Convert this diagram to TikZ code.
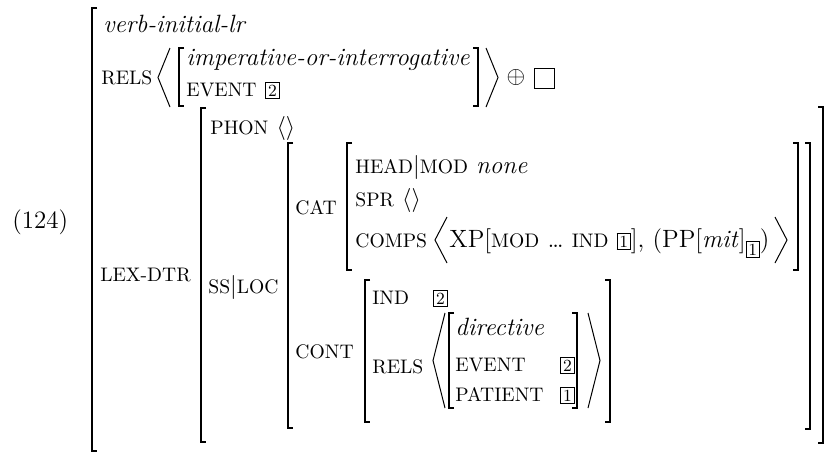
\documentclass[tikz,border=0pt]{standalone}
\usepackage{fontspec}
\newcommand{\avmtag}[1]{{\setlength{\fboxsep}{0.9pt}\setlength{\fboxrule}{0.45pt}\fbox{\fontsize{8.5}{9}\selectfont #1}}}
\newcommand{\fsc}[1]{{\fontsize{9.8}{12}\selectfont\MakeUppercase{#1}}}
\newcommand{\lbrk}[3]{\draw[brk] (#1+5,#2) -- (#1,#2) -- (#1,#3) -- (#1+5,#3);}
\newcommand{\rbrk}[3]{\draw[brk] (#1-5,#2) -- (#1,#2) -- (#1,#3) -- (#1-5,#3);}
\newcommand{\langl}[3]{\draw[ang] (#1+12,#2) -- (#1,{(#2+#3)/2}) -- (#1+12,#3);}
\newcommand{\rangl}[3]{\draw[ang] (#1,#2) -- (#1+12,{(#2+#3)/2}) -- (#1,#3);}
\begin{document}
\begin{tikzpicture}[x=0.5pt,y=-0.5pt,
  txt/.style={anchor=base west, inner sep=0pt, font=\fontsize{12.5}{15}\selectfont},
  brk/.style={line width=0.7pt},
  ang/.style={line width=0.5pt}]
\useasboundingbox (0,0) rectangle (829,452);
% number
\node[txt] (num) at (12,228) {(124)};
% outer
\lbrk{92}{8}{451}
\node[txt] (verb) at (103,32) {\textit{verb-initial-lr}};
\node[txt] (relsA) at (101,84) {\fsc{rels}};
\langl{158}{48}{107}
\lbrk{179}{48}{106}
\node[txt] (imp) at (186,65) {\textit{imperative-or-interrogative}};
\node[txt] (evA) at (186,96) {\fsc{event}};
\node[txt] (tagA) at (265,96) {\avmtag{2}};
\rbrk{478}{48}{106}
\rangl{486}{48}{107}
\node[inner sep=0pt, font=\fontsize{12.5}{15}\selectfont] (oplus) at (516,77) {$\oplus$};
\node[draw, line width=0.5pt, minimum size=10pt, inner sep=0pt] (emptybox) at (544,78) {};
% lex-dtr
\node[txt] (lexdtr) at (100,281) {\fsc{lex-dtr}};
\lbrk{201}{108}{442}
\rbrk{823}{107}{443}
\node[txt] (phon) at (210,134) {\fsc{phon} $\langle\rangle$};
\node[txt] (ssloc) at (208,293) {\fsc{ss}$|$\fsc{loc}};
\lbrk{288}{143}{428}
\rbrk{810}{143}{429}
% cat
\node[txt] (cat) at (295,214) {\fsc{cat}};
\lbrk{347}{143}{270}
\rbrk{798}{143}{270}
\node[txt] (head) at (355,173) {\fsc{head}$|$\fsc{mod} \textit{none}};
\node[txt] (spr) at (355,206) {\fsc{spr} $\langle\rangle$};
\node[txt] (comps) at (355,247) {\fsc{comps}};
\langl{435}{217}{263}
\node[txt] (xp) at (449,247) {XP[\fsc{mod} \dots{} \fsc{ind} \avmtag{1}], (PP[\textit{mit}]\raisebox{-4pt}{\avmtag{1}})};
\rangl{775}{217}{263}
% cont
\node[txt] (cont) at (295,358) {\fsc{cont}};
\lbrk{365}{280}{422}
\rbrk{610}{280}{422}
\node[txt] (ind) at (372,304) {\fsc{ind}};
\node[txt] (tagB) at (433,304) {\avmtag{2}};
\node[txt] (relsB) at (372,373) {\fsc{rels}};
\langl{433}{313}{408}
\lbrk{449}{313}{408}
\node[txt] (dir) at (455,335) {\textit{directive}};
\node[txt] (evB) at (455,371) {\fsc{event}};
\node[txt] (tagC) at (560,371) {\avmtag{2}};
\node[txt] (pat) at (455,401) {\fsc{patient}};
\node[txt] (tagD) at (560,401) {\avmtag{1}};
\rbrk{577}{313}{408}
\rangl{588}{313}{408}
\end{tikzpicture}
\end{document}
